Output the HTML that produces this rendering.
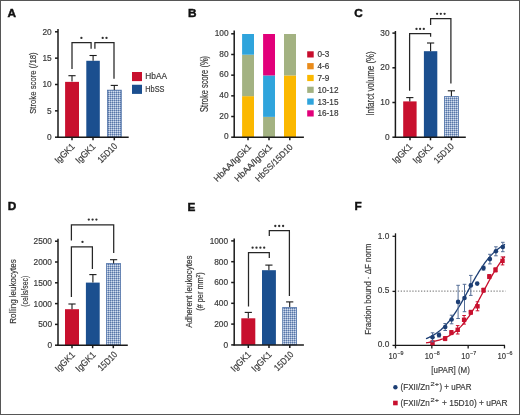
<!DOCTYPE html>
<html><head><meta charset="utf-8"><style>
html,body{margin:0;padding:0;background:#fff;}
svg{display:block;will-change:transform;}
text{font-family:"Liberation Sans", sans-serif;}
</style></head><body>
<svg width="520" height="415" viewBox="0 0 520 415" font-family='"Liberation Sans", sans-serif'>
<defs>
<pattern id="hat" x="0" y="0" width="2" height="2" patternUnits="userSpaceOnUse">
<rect width="2" height="2" fill="#93abcf"/>
<rect width="1" height="1" fill="#5a76a6"/>
<rect x="1" y="1" width="1" height="1" fill="#d5deec"/>
</pattern>
</defs>
<rect x="0" y="0" width="520" height="415" fill="#ffffff"/>
<rect x="65.1" y="81.865" width="13.9" height="55.334999999999994" fill="#c8102e"/>
<rect x="86.3" y="60.785" width="13.5" height="76.41499999999999" fill="#1b4f8f"/>
<rect x="107.4" y="90.17" width="13.899999999999999" height="47.029999999999994" fill="url(#hat)" stroke="#4f72a8" stroke-width="0.8"/>
<rect x="242.1" y="96.16" width="11.9" height="41.44" fill="#fbb800"/>
<rect x="242.1" y="54.72" width="11.9" height="41.44" fill="#a3b282"/>
<rect x="242.1" y="33.999999999999986" width="11.9" height="20.72" fill="#2fa4dc"/>
<rect x="263.1" y="116.88" width="11.9" height="20.72" fill="#a3b282"/>
<rect x="263.1" y="75.44" width="11.9" height="41.44" fill="#2fa4dc"/>
<rect x="263.1" y="33.999999999999986" width="11.9" height="41.44" fill="#e2007a"/>
<rect x="284.0" y="75.44" width="12.0" height="62.160000000000004" fill="#fbb800"/>
<rect x="284.0" y="33.999999999999986" width="12.0" height="41.44" fill="#a3b282"/>
<rect x="403.2" y="101.4" width="13.4" height="35.79999999999998" fill="#c8102e"/>
<rect x="423.9" y="51.2" width="13.4" height="85.99999999999999" fill="#1b4f8f"/>
<rect x="444.4" y="96.60000000000001" width="14.0" height="40.59999999999999" fill="url(#hat)" stroke="#4f72a8" stroke-width="0.8"/>
<rect x="65.0" y="309.2" width="14" height="36.0" fill="#c8102e"/>
<rect x="85.9" y="282.6" width="13.8" height="62.599999999999966" fill="#1b4f8f"/>
<rect x="106.60000000000001" y="263.5" width="13.799999999999999" height="81.69999999999996" fill="url(#hat)" stroke="#4f72a8" stroke-width="0.8"/>
<rect x="241.3" y="318.3" width="14" height="26.599999999999966" fill="#c8102e"/>
<rect x="262" y="270.2" width="13.9" height="74.69999999999999" fill="#1b4f8f"/>
<rect x="282.7" y="307.4" width="13.799999999999999" height="37.49999999999998" fill="url(#hat)" stroke="#4f72a8" stroke-width="0.8"/>
<rect x="0.5" y="0.5" width="519" height="414" fill="none" stroke="#565656" stroke-width="1"/>
<text x="7.5" y="16.8" font-size="11.8" text-anchor="start" fill="#111" font-weight="bold" stroke="#111" stroke-width="0.45">A</text>
<line x1="58" y1="29" x2="58" y2="137.79999999999998" stroke="#1a1a1a" stroke-width="1.5"/>
<line x1="55" y1="137.2" x2="58" y2="137.2" stroke="#1a1a1a" stroke-width="1.5"/>
<text x="51.7" y="140.1" font-size="8.3" text-anchor="end" fill="#3a3a3a" font-weight="normal" stroke="#3a3a3a" stroke-width="0.18">0</text>
<line x1="55" y1="110.85" x2="58" y2="110.85" stroke="#1a1a1a" stroke-width="1.5"/>
<text x="51.7" y="113.75" font-size="8.3" text-anchor="end" fill="#3a3a3a" font-weight="normal" stroke="#3a3a3a" stroke-width="0.18">5</text>
<line x1="55" y1="84.5" x2="58" y2="84.5" stroke="#1a1a1a" stroke-width="1.5"/>
<text x="51.7" y="87.4" font-size="8.3" text-anchor="end" fill="#3a3a3a" font-weight="normal" stroke="#3a3a3a" stroke-width="0.18">10</text>
<line x1="55" y1="58.14999999999999" x2="58" y2="58.14999999999999" stroke="#1a1a1a" stroke-width="1.5"/>
<text x="51.7" y="61.04999999999999" font-size="8.3" text-anchor="end" fill="#3a3a3a" font-weight="normal" stroke="#3a3a3a" stroke-width="0.18">15</text>
<line x1="55" y1="31.799999999999997" x2="58" y2="31.799999999999997" stroke="#1a1a1a" stroke-width="1.5"/>
<text x="51.7" y="34.699999999999996" font-size="8.3" text-anchor="end" fill="#3a3a3a" font-weight="normal" stroke="#3a3a3a" stroke-width="0.18">20</text>
<line x1="57.4" y1="137.3" x2="128.7" y2="137.3" stroke="#1a1a1a" stroke-width="1.5"/>
<line x1="72" y1="137.3" x2="72" y2="140.3" stroke="#1a1a1a" stroke-width="1.5"/>
<line x1="93" y1="137.3" x2="93" y2="140.3" stroke="#1a1a1a" stroke-width="1.5"/>
<line x1="114.3" y1="137.3" x2="114.3" y2="140.3" stroke="#1a1a1a" stroke-width="1.5"/>
<line x1="72" y1="81.4" x2="72" y2="75.7" stroke="#1a1a1a" stroke-width="1.1"/>
<line x1="68.4" y1="75.7" x2="75.6" y2="75.7" stroke="#1a1a1a" stroke-width="1.1"/>
<line x1="93.1" y1="60.7" x2="93.1" y2="55.5" stroke="#1a1a1a" stroke-width="1.1"/>
<line x1="89.5" y1="55.5" x2="96.69999999999999" y2="55.5" stroke="#1a1a1a" stroke-width="1.1"/>
<line x1="114.3" y1="89.9" x2="114.3" y2="85.4" stroke="#1a1a1a" stroke-width="1.1"/>
<line x1="110.7" y1="85.4" x2="117.89999999999999" y2="85.4" stroke="#1a1a1a" stroke-width="1.1"/>
<polyline points="72,69 72,42.7 91.1,42.7 91.1,48.7" fill="none" stroke="#262626" stroke-width="1.25"/>
<polyline points="94.9,48.7 94.9,42.7 114,42.7 114,78.7" fill="none" stroke="#262626" stroke-width="1.25"/>
<circle cx="81.4" cy="37.9" r="1.15" fill="#2e2e2e"/>
<circle cx="102.7" cy="37.9" r="1.15" fill="#2e2e2e"/>
<circle cx="106.5" cy="37.9" r="1.15" fill="#2e2e2e"/>
<rect x="132" y="72" width="10" height="9.1" fill="#c8102e"/>
<rect x="132" y="84.75" width="10" height="9.15" fill="#1b4f8f"/>
<text x="145.3" y="79.2" font-size="8.4" text-anchor="start" fill="#3a3a3a" font-weight="normal" textLength="21.7" lengthAdjust="spacingAndGlyphs" stroke="#3a3a3a" stroke-width="0.18">HbAA</text>
<text x="145.3" y="91.9" font-size="8.4" text-anchor="start" fill="#3a3a3a" font-weight="normal" textLength="19.2" lengthAdjust="spacingAndGlyphs" stroke="#3a3a3a" stroke-width="0.18">HbSS</text>
<text x="36.2" y="83.1" font-size="9.6" text-anchor="middle" fill="#3a3a3a" font-weight="normal" textLength="61.5" lengthAdjust="spacingAndGlyphs" transform="rotate(-90 36.2 83.1)" stroke="#3a3a3a" stroke-width="0.18">Stroke score (/18)</text>
<text x="75.4" y="147.1" font-size="9.3" text-anchor="end" fill="#3a3a3a" font-weight="normal" textLength="24" lengthAdjust="spacingAndGlyphs" transform="rotate(-45 75.4 147.1)" stroke="#3a3a3a" stroke-width="0.18">IgGK1</text>
<text x="96.2" y="147.1" font-size="9.3" text-anchor="end" fill="#3a3a3a" font-weight="normal" textLength="24" lengthAdjust="spacingAndGlyphs" transform="rotate(-45 96.2 147.1)" stroke="#3a3a3a" stroke-width="0.18">IgGK1</text>
<text x="117.8" y="146.9" font-size="9.3" text-anchor="end" fill="#3a3a3a" font-weight="normal" textLength="23.5" lengthAdjust="spacingAndGlyphs" transform="rotate(-45 117.8 146.9)" stroke="#3a3a3a" stroke-width="0.18">15D10</text>
<text x="188.1" y="16.9" font-size="11.8" text-anchor="start" fill="#111" font-weight="bold" stroke="#111" stroke-width="0.45">B</text>
<line x1="234.2" y1="30.6" x2="234.2" y2="137.79999999999998" stroke="#1a1a1a" stroke-width="1.5"/>
<line x1="231.2" y1="137.2" x2="234.2" y2="137.2" stroke="#1a1a1a" stroke-width="1.5"/>
<text x="228.5" y="139.39999999999998" font-size="8.3" text-anchor="end" fill="#3a3a3a" font-weight="normal" stroke="#3a3a3a" stroke-width="0.18">0</text>
<line x1="231.2" y1="116.51999999999998" x2="234.2" y2="116.51999999999998" stroke="#1a1a1a" stroke-width="1.5"/>
<text x="228.5" y="118.71999999999998" font-size="8.3" text-anchor="end" fill="#3a3a3a" font-weight="normal" stroke="#3a3a3a" stroke-width="0.18">20</text>
<line x1="231.2" y1="95.83999999999999" x2="234.2" y2="95.83999999999999" stroke="#1a1a1a" stroke-width="1.5"/>
<text x="228.5" y="98.03999999999999" font-size="8.3" text-anchor="end" fill="#3a3a3a" font-weight="normal" stroke="#3a3a3a" stroke-width="0.18">40</text>
<line x1="231.2" y1="75.16" x2="234.2" y2="75.16" stroke="#1a1a1a" stroke-width="1.5"/>
<text x="228.5" y="77.36" font-size="8.3" text-anchor="end" fill="#3a3a3a" font-weight="normal" stroke="#3a3a3a" stroke-width="0.18">60</text>
<line x1="231.2" y1="54.47999999999999" x2="234.2" y2="54.47999999999999" stroke="#1a1a1a" stroke-width="1.5"/>
<text x="228.5" y="56.67999999999999" font-size="8.3" text-anchor="end" fill="#3a3a3a" font-weight="normal" stroke="#3a3a3a" stroke-width="0.18">80</text>
<line x1="231.2" y1="33.79999999999998" x2="234.2" y2="33.79999999999998" stroke="#1a1a1a" stroke-width="1.5"/>
<text x="228.5" y="35.999999999999986" font-size="8.3" text-anchor="end" fill="#3a3a3a" font-weight="normal" stroke="#3a3a3a" stroke-width="0.18">100</text>
<line x1="233.6" y1="137.2" x2="303.9" y2="137.2" stroke="#1a1a1a" stroke-width="1.5"/>
<line x1="248" y1="137.2" x2="248" y2="140.2" stroke="#1a1a1a" stroke-width="1.5"/>
<line x1="269" y1="137.2" x2="269" y2="140.2" stroke="#1a1a1a" stroke-width="1.5"/>
<line x1="289.8" y1="137.2" x2="289.8" y2="140.2" stroke="#1a1a1a" stroke-width="1.5"/>
<rect x="307.2" y="51.3" width="6.5" height="6.2" fill="#c70d2d"/>
<text x="317.5" y="57.3" font-size="8.2" text-anchor="start" fill="#3a3a3a" font-weight="normal" stroke="#3a3a3a" stroke-width="0.18">0-3</text>
<rect x="307.2" y="63.099999999999994" width="6.5" height="6.2" fill="#e98b1a"/>
<text x="317.5" y="69.1" font-size="8.2" text-anchor="start" fill="#3a3a3a" font-weight="normal" stroke="#3a3a3a" stroke-width="0.18">4-6</text>
<rect x="307.2" y="74.9" width="6.5" height="6.2" fill="#fbb800"/>
<text x="317.5" y="80.9" font-size="8.2" text-anchor="start" fill="#3a3a3a" font-weight="normal" stroke="#3a3a3a" stroke-width="0.18">7-9</text>
<rect x="307.2" y="86.7" width="6.5" height="6.2" fill="#a3b282"/>
<text x="317.5" y="92.7" font-size="8.2" text-anchor="start" fill="#3a3a3a" font-weight="normal" stroke="#3a3a3a" stroke-width="0.18">10-12</text>
<rect x="307.2" y="98.5" width="6.5" height="6.2" fill="#2fa4dc"/>
<text x="317.5" y="104.5" font-size="8.2" text-anchor="start" fill="#3a3a3a" font-weight="normal" stroke="#3a3a3a" stroke-width="0.18">13-15</text>
<rect x="307.2" y="110.3" width="6.5" height="6.2" fill="#e2007a"/>
<text x="317.5" y="116.3" font-size="8.2" text-anchor="start" fill="#3a3a3a" font-weight="normal" stroke="#3a3a3a" stroke-width="0.18">16-18</text>
<text x="207.9" y="83.9" font-size="10" text-anchor="middle" fill="#3a3a3a" font-weight="normal" textLength="56" lengthAdjust="spacingAndGlyphs" transform="rotate(-90 207.9 83.9)" stroke="#3a3a3a" stroke-width="0.18">Stroke score (%)</text>
<text x="251.8" y="147.6" font-size="8.8" text-anchor="end" fill="#3a3a3a" font-weight="normal" textLength="49" lengthAdjust="spacingAndGlyphs" transform="rotate(-45 251.8 147.6)" stroke="#3a3a3a" stroke-width="0.18">HbAA/IgGk1</text>
<text x="272.7" y="147.6" font-size="8.8" text-anchor="end" fill="#3a3a3a" font-weight="normal" textLength="49" lengthAdjust="spacingAndGlyphs" transform="rotate(-45 272.7 147.6)" stroke="#3a3a3a" stroke-width="0.18">HbAA/IgGk1</text>
<text x="293.4" y="147.6" font-size="8.8" text-anchor="end" fill="#3a3a3a" font-weight="normal" textLength="49" lengthAdjust="spacingAndGlyphs" transform="rotate(-45 293.4 147.6)" stroke="#3a3a3a" stroke-width="0.18">HbSS/15D10</text>
<text x="354.3" y="17.2" font-size="11.8" text-anchor="start" fill="#111" font-weight="bold" stroke="#111" stroke-width="0.45">C</text>
<line x1="395.4" y1="31" x2="395.4" y2="137.79999999999998" stroke="#1a1a1a" stroke-width="1.5"/>
<line x1="392.4" y1="137.2" x2="395.4" y2="137.2" stroke="#1a1a1a" stroke-width="1.5"/>
<text x="389.5" y="139.7" font-size="8.3" text-anchor="end" fill="#3a3a3a" font-weight="normal" stroke="#3a3a3a" stroke-width="0.18">0</text>
<line x1="392.4" y1="102.49999999999999" x2="395.4" y2="102.49999999999999" stroke="#1a1a1a" stroke-width="1.5"/>
<text x="389.5" y="104.99999999999999" font-size="8.3" text-anchor="end" fill="#3a3a3a" font-weight="normal" stroke="#3a3a3a" stroke-width="0.18">10</text>
<line x1="392.4" y1="67.79999999999998" x2="395.4" y2="67.79999999999998" stroke="#1a1a1a" stroke-width="1.5"/>
<text x="389.5" y="70.29999999999998" font-size="8.3" text-anchor="end" fill="#3a3a3a" font-weight="normal" stroke="#3a3a3a" stroke-width="0.18">20</text>
<line x1="392.4" y1="33.09999999999998" x2="395.4" y2="33.09999999999998" stroke="#1a1a1a" stroke-width="1.5"/>
<text x="389.5" y="35.59999999999998" font-size="8.3" text-anchor="end" fill="#3a3a3a" font-weight="normal" stroke="#3a3a3a" stroke-width="0.18">30</text>
<line x1="394.79999999999995" y1="137.3" x2="465.8" y2="137.3" stroke="#1a1a1a" stroke-width="1.5"/>
<line x1="410" y1="137.3" x2="410" y2="140.3" stroke="#1a1a1a" stroke-width="1.5"/>
<line x1="430.5" y1="137.3" x2="430.5" y2="140.3" stroke="#1a1a1a" stroke-width="1.5"/>
<line x1="451.4" y1="137.3" x2="451.4" y2="140.3" stroke="#1a1a1a" stroke-width="1.5"/>
<line x1="409.8" y1="101.4" x2="409.8" y2="97.6" stroke="#1a1a1a" stroke-width="1.1"/>
<line x1="406.2" y1="97.6" x2="413.40000000000003" y2="97.6" stroke="#1a1a1a" stroke-width="1.1"/>
<line x1="430.6" y1="51.2" x2="430.6" y2="43.0" stroke="#1a1a1a" stroke-width="1.1"/>
<line x1="427.0" y1="43.0" x2="434.20000000000005" y2="43.0" stroke="#1a1a1a" stroke-width="1.1"/>
<line x1="451.4" y1="96.2" x2="451.4" y2="90.8" stroke="#1a1a1a" stroke-width="1.1"/>
<line x1="447.79999999999995" y1="90.8" x2="455.0" y2="90.8" stroke="#1a1a1a" stroke-width="1.1"/>
<polyline points="409.6,90.8 409.6,33.6 430.6,33.6 430.6,36.7" fill="none" stroke="#262626" stroke-width="1.25"/>
<polyline points="430.6,25.0 430.6,18.5 450.9,18.5 450.9,83.6" fill="none" stroke="#262626" stroke-width="1.25"/>
<circle cx="416.5" cy="28.9" r="1.15" fill="#2e2e2e"/>
<circle cx="420.1" cy="28.9" r="1.15" fill="#2e2e2e"/>
<circle cx="423.8" cy="28.9" r="1.15" fill="#2e2e2e"/>
<circle cx="437.1" cy="13.8" r="1.15" fill="#2e2e2e"/>
<circle cx="440.8" cy="13.8" r="1.15" fill="#2e2e2e"/>
<circle cx="444.6" cy="13.8" r="1.15" fill="#2e2e2e"/>
<text x="374.0" y="83.5" font-size="10.2" text-anchor="middle" fill="#3a3a3a" font-weight="normal" textLength="64.5" lengthAdjust="spacingAndGlyphs" transform="rotate(-90 374.0 83.5)" stroke="#3a3a3a" stroke-width="0.18">Infarct volume (%)</text>
<text x="412.9" y="147.1" font-size="9.3" text-anchor="end" fill="#3a3a3a" font-weight="normal" textLength="24" lengthAdjust="spacingAndGlyphs" transform="rotate(-45 412.9 147.1)" stroke="#3a3a3a" stroke-width="0.18">IgGK1</text>
<text x="433.6" y="147.1" font-size="9.3" text-anchor="end" fill="#3a3a3a" font-weight="normal" textLength="24" lengthAdjust="spacingAndGlyphs" transform="rotate(-45 433.6 147.1)" stroke="#3a3a3a" stroke-width="0.18">IgGK1</text>
<text x="454.4" y="147.0" font-size="9.3" text-anchor="end" fill="#3a3a3a" font-weight="normal" textLength="24" lengthAdjust="spacingAndGlyphs" transform="rotate(-45 454.4 147.0)" stroke="#3a3a3a" stroke-width="0.18">15D10</text>
<text x="7.8" y="210.2" font-size="11.8" text-anchor="start" fill="#111" font-weight="bold" stroke="#111" stroke-width="0.45">D</text>
<line x1="58" y1="238.7" x2="58" y2="345.8" stroke="#1a1a1a" stroke-width="1.5"/>
<line x1="55" y1="345.2" x2="58" y2="345.2" stroke="#1a1a1a" stroke-width="1.5"/>
<text x="52.0" y="348.09999999999997" font-size="8.3" text-anchor="end" fill="#3a3a3a" font-weight="normal" stroke="#3a3a3a" stroke-width="0.18">0</text>
<line x1="55" y1="324.4" x2="58" y2="324.4" stroke="#1a1a1a" stroke-width="1.5"/>
<text x="52.0" y="327.29999999999995" font-size="8.3" text-anchor="end" fill="#3a3a3a" font-weight="normal" stroke="#3a3a3a" stroke-width="0.18">500</text>
<line x1="55" y1="303.59999999999997" x2="58" y2="303.59999999999997" stroke="#1a1a1a" stroke-width="1.5"/>
<text x="52.0" y="306.49999999999994" font-size="8.3" text-anchor="end" fill="#3a3a3a" font-weight="normal" stroke="#3a3a3a" stroke-width="0.18">1000</text>
<line x1="55" y1="282.8" x2="58" y2="282.8" stroke="#1a1a1a" stroke-width="1.5"/>
<text x="52.0" y="285.7" font-size="8.3" text-anchor="end" fill="#3a3a3a" font-weight="normal" stroke="#3a3a3a" stroke-width="0.18">1500</text>
<line x1="55" y1="262.0" x2="58" y2="262.0" stroke="#1a1a1a" stroke-width="1.5"/>
<text x="52.0" y="264.9" font-size="8.3" text-anchor="end" fill="#3a3a3a" font-weight="normal" stroke="#3a3a3a" stroke-width="0.18">2000</text>
<line x1="55" y1="241.2" x2="58" y2="241.2" stroke="#1a1a1a" stroke-width="1.5"/>
<text x="52.0" y="244.1" font-size="8.3" text-anchor="end" fill="#3a3a3a" font-weight="normal" stroke="#3a3a3a" stroke-width="0.18">2500</text>
<line x1="57.4" y1="345.2" x2="127.8" y2="345.2" stroke="#1a1a1a" stroke-width="1.5"/>
<line x1="72" y1="345.2" x2="72" y2="348.2" stroke="#1a1a1a" stroke-width="1.5"/>
<line x1="92.7" y1="345.2" x2="92.7" y2="348.2" stroke="#1a1a1a" stroke-width="1.5"/>
<line x1="113.3" y1="345.2" x2="113.3" y2="348.2" stroke="#1a1a1a" stroke-width="1.5"/>
<line x1="72" y1="309.2" x2="72" y2="304.0" stroke="#1a1a1a" stroke-width="1.1"/>
<line x1="68.4" y1="304.0" x2="75.6" y2="304.0" stroke="#1a1a1a" stroke-width="1.1"/>
<line x1="92.9" y1="282.6" x2="92.9" y2="274.6" stroke="#1a1a1a" stroke-width="1.1"/>
<line x1="89.30000000000001" y1="274.6" x2="96.5" y2="274.6" stroke="#1a1a1a" stroke-width="1.1"/>
<line x1="113.6" y1="263.6" x2="113.6" y2="259.7" stroke="#1a1a1a" stroke-width="1.1"/>
<line x1="110.0" y1="259.7" x2="117.19999999999999" y2="259.7" stroke="#1a1a1a" stroke-width="1.1"/>
<polyline points="71.4,240.4 71.4,224.8 113.7,224.8 113.7,253" fill="none" stroke="#262626" stroke-width="1.25"/>
<polyline points="71.4,296.9 71.4,246.8 92.4,246.8 92.4,269" fill="none" stroke="#262626" stroke-width="1.25"/>
<circle cx="88.8" cy="219.6" r="1.15" fill="#2e2e2e"/>
<circle cx="92.6" cy="219.6" r="1.15" fill="#2e2e2e"/>
<circle cx="96.4" cy="219.6" r="1.15" fill="#2e2e2e"/>
<circle cx="82.5" cy="241.9" r="1.15" fill="#2e2e2e"/>
<text x="15.7" y="291.6" font-size="9.8" text-anchor="middle" fill="#3a3a3a" font-weight="normal" textLength="64.5" lengthAdjust="spacingAndGlyphs" transform="rotate(-90 15.7 291.6)" stroke="#3a3a3a" stroke-width="0.18">Rolling leukocytes</text>
<text x="27.6" y="291.2" font-size="9" text-anchor="middle" fill="#3a3a3a" font-weight="normal" textLength="31" lengthAdjust="spacingAndGlyphs" transform="rotate(-90 27.6 291.2)" stroke="#3a3a3a" stroke-width="0.18">(cells/sec)</text>
<text x="75.6" y="355.5" font-size="9.3" text-anchor="end" fill="#3a3a3a" font-weight="normal" textLength="24" lengthAdjust="spacingAndGlyphs" transform="rotate(-45 75.6 355.5)" stroke="#3a3a3a" stroke-width="0.18">IgGK1</text>
<text x="96.3" y="355.5" font-size="9.3" text-anchor="end" fill="#3a3a3a" font-weight="normal" textLength="24" lengthAdjust="spacingAndGlyphs" transform="rotate(-45 96.3 355.5)" stroke="#3a3a3a" stroke-width="0.18">IgGK1</text>
<text x="117.8" y="355.3" font-size="9.3" text-anchor="end" fill="#3a3a3a" font-weight="normal" textLength="23" lengthAdjust="spacingAndGlyphs" transform="rotate(-45 117.8 355.3)" stroke="#3a3a3a" stroke-width="0.18">15D10</text>
<text x="187.6" y="210.5" font-size="11.8" text-anchor="start" fill="#111" font-weight="bold" stroke="#111" stroke-width="0.45">E</text>
<line x1="234.2" y1="238.5" x2="234.2" y2="345.5" stroke="#1a1a1a" stroke-width="1.5"/>
<line x1="231.2" y1="344.9" x2="234.2" y2="344.9" stroke="#1a1a1a" stroke-width="1.5"/>
<text x="228.1" y="347.79999999999995" font-size="8.3" text-anchor="end" fill="#3a3a3a" font-weight="normal" stroke="#3a3a3a" stroke-width="0.18">0</text>
<line x1="231.2" y1="324.09999999999997" x2="234.2" y2="324.09999999999997" stroke="#1a1a1a" stroke-width="1.5"/>
<text x="228.1" y="326.99999999999994" font-size="8.3" text-anchor="end" fill="#3a3a3a" font-weight="normal" stroke="#3a3a3a" stroke-width="0.18">200</text>
<line x1="231.2" y1="303.29999999999995" x2="234.2" y2="303.29999999999995" stroke="#1a1a1a" stroke-width="1.5"/>
<text x="228.1" y="306.19999999999993" font-size="8.3" text-anchor="end" fill="#3a3a3a" font-weight="normal" stroke="#3a3a3a" stroke-width="0.18">400</text>
<line x1="231.2" y1="282.5" x2="234.2" y2="282.5" stroke="#1a1a1a" stroke-width="1.5"/>
<text x="228.1" y="285.4" font-size="8.3" text-anchor="end" fill="#3a3a3a" font-weight="normal" stroke="#3a3a3a" stroke-width="0.18">600</text>
<line x1="231.2" y1="261.7" x2="234.2" y2="261.7" stroke="#1a1a1a" stroke-width="1.5"/>
<text x="228.1" y="264.59999999999997" font-size="8.3" text-anchor="end" fill="#3a3a3a" font-weight="normal" stroke="#3a3a3a" stroke-width="0.18">800</text>
<line x1="231.2" y1="240.89999999999998" x2="234.2" y2="240.89999999999998" stroke="#1a1a1a" stroke-width="1.5"/>
<text x="228.1" y="243.79999999999998" font-size="8.3" text-anchor="end" fill="#3a3a3a" font-weight="normal" stroke="#3a3a3a" stroke-width="0.18">1000</text>
<line x1="233.6" y1="345.0" x2="303.9" y2="345.0" stroke="#1a1a1a" stroke-width="1.5"/>
<line x1="248.3" y1="345.0" x2="248.3" y2="348.0" stroke="#1a1a1a" stroke-width="1.5"/>
<line x1="269" y1="345.0" x2="269" y2="348.0" stroke="#1a1a1a" stroke-width="1.5"/>
<line x1="289.8" y1="345.0" x2="289.8" y2="348.0" stroke="#1a1a1a" stroke-width="1.5"/>
<line x1="248.3" y1="318.3" x2="248.3" y2="312.4" stroke="#1a1a1a" stroke-width="1.1"/>
<line x1="244.70000000000002" y1="312.4" x2="251.9" y2="312.4" stroke="#1a1a1a" stroke-width="1.1"/>
<line x1="268.9" y1="270.2" x2="268.9" y2="265.1" stroke="#1a1a1a" stroke-width="1.1"/>
<line x1="265.29999999999995" y1="265.1" x2="272.5" y2="265.1" stroke="#1a1a1a" stroke-width="1.1"/>
<line x1="289.7" y1="307" x2="289.7" y2="301.9" stroke="#1a1a1a" stroke-width="1.1"/>
<line x1="286.09999999999997" y1="301.9" x2="293.3" y2="301.9" stroke="#1a1a1a" stroke-width="1.1"/>
<polyline points="248.5,306.6 248.5,252.5 269.3,252.5 269.3,258.1" fill="none" stroke="#262626" stroke-width="1.25"/>
<polyline points="269.3,236.1 269.3,230.6 289.4,230.6 289.4,296" fill="none" stroke="#262626" stroke-width="1.25"/>
<circle cx="252.6" cy="247.7" r="1.15" fill="#2e2e2e"/>
<circle cx="256.5" cy="247.7" r="1.15" fill="#2e2e2e"/>
<circle cx="260.4" cy="247.7" r="1.15" fill="#2e2e2e"/>
<circle cx="264.2" cy="247.7" r="1.15" fill="#2e2e2e"/>
<circle cx="275.3" cy="226.0" r="1.15" fill="#2e2e2e"/>
<circle cx="279.2" cy="226.0" r="1.15" fill="#2e2e2e"/>
<circle cx="283.1" cy="226.0" r="1.15" fill="#2e2e2e"/>
<text x="191.9" y="291.7" font-size="9.8" text-anchor="middle" fill="#3a3a3a" font-weight="normal" textLength="72.3" lengthAdjust="spacingAndGlyphs" transform="rotate(-90 191.9 291.7)" stroke="#3a3a3a" stroke-width="0.18">Adherent leukocytes</text>
<text x="203.4" y="291.5" font-size="8.2" text-anchor="middle" fill="#3a3a3a" font-weight="normal" textLength="38.5" lengthAdjust="spacingAndGlyphs" transform="rotate(-90 203.4 291.5)" stroke="#3a3a3a" stroke-width="0.18">(# per mm<tspan font-size="5.4" dy="-3.4">2</tspan><tspan dy="3.4">)</tspan></text>
<text x="251.6" y="355.2" font-size="9.3" text-anchor="end" fill="#3a3a3a" font-weight="normal" textLength="24" lengthAdjust="spacingAndGlyphs" transform="rotate(-45 251.6 355.2)" stroke="#3a3a3a" stroke-width="0.18">IgGK1</text>
<text x="272.3" y="355.2" font-size="9.3" text-anchor="end" fill="#3a3a3a" font-weight="normal" textLength="24" lengthAdjust="spacingAndGlyphs" transform="rotate(-45 272.3 355.2)" stroke="#3a3a3a" stroke-width="0.18">IgGK1</text>
<text x="294.1" y="355.2" font-size="9.3" text-anchor="end" fill="#3a3a3a" font-weight="normal" textLength="23" lengthAdjust="spacingAndGlyphs" transform="rotate(-45 294.1 355.2)" stroke="#3a3a3a" stroke-width="0.18">15D10</text>
<text x="354.6" y="210.3" font-size="11.8" text-anchor="start" fill="#111" font-weight="bold" stroke="#111" stroke-width="0.45">F</text>
<line x1="395.5" y1="233.3" x2="395.5" y2="346.1" stroke="#1a1a1a" stroke-width="1.3"/>
<line x1="392.5" y1="345.4" x2="395.5" y2="345.4" stroke="#1a1a1a" stroke-width="1.3"/>
<text x="389.3" y="347.4" font-size="8.3" text-anchor="end" fill="#3a3a3a" font-weight="normal" stroke="#3a3a3a" stroke-width="0.18">0.0</text>
<line x1="392.5" y1="291.4" x2="395.5" y2="291.4" stroke="#1a1a1a" stroke-width="1.3"/>
<text x="389.3" y="293.2" font-size="8.3" text-anchor="end" fill="#3a3a3a" font-weight="normal" stroke="#3a3a3a" stroke-width="0.18">0.5</text>
<line x1="392.5" y1="236.3" x2="395.5" y2="236.3" stroke="#1a1a1a" stroke-width="1.3"/>
<text x="389.3" y="238.7" font-size="8.3" text-anchor="end" fill="#3a3a3a" font-weight="normal" stroke="#3a3a3a" stroke-width="0.18">1.0</text>
<line x1="394.9" y1="345.4" x2="505" y2="345.4" stroke="#1a1a1a" stroke-width="1.3"/>
<line x1="395.5" y1="345.4" x2="395.5" y2="348.4" stroke="#1a1a1a" stroke-width="1.3"/>
<text x="388.5" y="359" font-size="8.4" text-anchor="start" fill="#3a3a3a" font-weight="normal" textLength="8.5" lengthAdjust="spacingAndGlyphs" stroke="#3a3a3a" stroke-width="0.18">10</text>
<text x="397.4" y="355.1" font-size="5.7" text-anchor="start" fill="#3a3a3a" font-weight="normal" textLength="6.1" lengthAdjust="spacingAndGlyphs" stroke="#3a3a3a" stroke-width="0.18">−9</text>
<line x1="431.83" y1="345.4" x2="431.83" y2="348.4" stroke="#1a1a1a" stroke-width="1.3"/>
<text x="424.83" y="359" font-size="8.4" text-anchor="start" fill="#3a3a3a" font-weight="normal" textLength="8.5" lengthAdjust="spacingAndGlyphs" stroke="#3a3a3a" stroke-width="0.18">10</text>
<text x="433.72999999999996" y="355.1" font-size="5.7" text-anchor="start" fill="#3a3a3a" font-weight="normal" textLength="6.1" lengthAdjust="spacingAndGlyphs" stroke="#3a3a3a" stroke-width="0.18">−8</text>
<line x1="468.15999999999997" y1="345.4" x2="468.15999999999997" y2="348.4" stroke="#1a1a1a" stroke-width="1.3"/>
<text x="461.15999999999997" y="359" font-size="8.4" text-anchor="start" fill="#3a3a3a" font-weight="normal" textLength="8.5" lengthAdjust="spacingAndGlyphs" stroke="#3a3a3a" stroke-width="0.18">10</text>
<text x="470.05999999999995" y="355.1" font-size="5.7" text-anchor="start" fill="#3a3a3a" font-weight="normal" textLength="6.1" lengthAdjust="spacingAndGlyphs" stroke="#3a3a3a" stroke-width="0.18">−7</text>
<line x1="504.49" y1="345.4" x2="504.49" y2="348.4" stroke="#1a1a1a" stroke-width="1.3"/>
<text x="497.49" y="359" font-size="8.4" text-anchor="start" fill="#3a3a3a" font-weight="normal" textLength="8.5" lengthAdjust="spacingAndGlyphs" stroke="#3a3a3a" stroke-width="0.18">10</text>
<text x="506.39" y="355.1" font-size="5.7" text-anchor="start" fill="#3a3a3a" font-weight="normal" textLength="6.1" lengthAdjust="spacingAndGlyphs" stroke="#3a3a3a" stroke-width="0.18">−6</text>
<line x1="397.8" y1="291.2" x2="505.5" y2="291.2" stroke="#858585" stroke-width="1.2" stroke-dasharray="1.3 1.6"/>
<polyline points="426.0,338.7 427.0,338.3 428.0,337.88 429.0,337.44 430.0,336.96 431.0,336.47 432.0,335.94 433.0,335.38 434.0,334.79 435.0,334.17 436.0,333.51 437.0,332.82 438.0,332.09 439.0,331.32 440.0,330.51 441.0,329.66 442.0,328.77 443.0,327.84 444.0,326.86 445.0,325.84 446.0,324.77 447.0,323.66 448.0,322.5 449.0,321.29 450.0,320.04 451.0,318.74 452.0,317.39 453.0,316.0 454.0,314.56 455.0,313.09 456.0,311.56 457.0,310.0 458.0,308.4 459.0,306.77 460.0,305.1 461.0,303.4 462.0,301.67 463.0,299.92 464.0,298.15 465.0,296.36 466.0,294.56 467.0,292.75 468.0,290.93 469.0,289.11 470.0,287.29 471.0,285.48 472.0,283.68 473.0,281.89 474.0,280.12 475.0,278.38 476.0,276.66 477.0,274.96 478.0,273.3 479.0,271.67 480.0,270.08 481.0,268.53 482.0,267.01 483.0,265.54 484.0,264.12 485.0,262.74 486.0,261.4 487.0,260.11 488.0,258.86 489.0,257.67 490.0,256.52 491.0,255.41 492.0,254.35 493.0,253.34 494.0,252.37 495.0,251.45 496.0,250.57 497.0,249.73 498.0,248.93 499.0,248.17 500.0,247.44 501.0,246.76 502.0,246.11 503.0,245.49 504.0,244.91 505.0,244.35" fill="none" stroke="#1c3e74" stroke-width="1.3"/>
<polyline points="426.0,342.85 427.0,342.71 428.0,342.57 429.0,342.41 430.0,342.24 431.0,342.07 432.0,341.88 433.0,341.67 434.0,341.46 435.0,341.23 436.0,340.98 437.0,340.72 438.0,340.44 439.0,340.14 440.0,339.82 441.0,339.48 442.0,339.12 443.0,338.74 444.0,338.33 445.0,337.9 446.0,337.44 447.0,336.95 448.0,336.44 449.0,335.89 450.0,335.31 451.0,334.69 452.0,334.04 453.0,333.35 454.0,332.63 455.0,331.86 456.0,331.05 457.0,330.2 458.0,329.31 459.0,328.37 460.0,327.38 461.0,326.35 462.0,325.27 463.0,324.14 464.0,322.96 465.0,321.73 466.0,320.45 467.0,319.12 468.0,317.74 469.0,316.31 470.0,314.84 471.0,313.31 472.0,311.75 473.0,310.13 474.0,308.48 475.0,306.79 476.0,305.07 477.0,303.31 478.0,301.52 479.0,299.7 480.0,297.87 481.0,296.01 482.0,294.15 483.0,292.27 484.0,290.39 485.0,288.51 486.0,286.63 487.0,284.76 488.0,282.9 489.0,281.06 490.0,279.24 491.0,277.45 492.0,275.68 493.0,273.95 494.0,272.25 495.0,270.59 496.0,268.97 497.0,267.4 498.0,265.87 499.0,264.38 500.0,262.94 501.0,261.55 502.0,260.21 503.0,258.92 504.0,257.68 505.0,256.49" fill="none" stroke="#c8102e" stroke-width="1.3"/>
<line x1="432.5" y1="340.8" x2="432.5" y2="344.8" stroke="#c8102e" stroke-width="1"/>
<line x1="430.7" y1="340.8" x2="434.3" y2="340.8" stroke="#c8102e" stroke-width="1"/>
<line x1="430.7" y1="344.8" x2="434.3" y2="344.8" stroke="#c8102e" stroke-width="1"/>
<rect x="430.3" y="340.6" width="4.4" height="4.4" fill="#c8102e"/>
<line x1="445.1" y1="336.6" x2="445.1" y2="340.6" stroke="#c8102e" stroke-width="1"/>
<line x1="443.3" y1="336.6" x2="446.90000000000003" y2="336.6" stroke="#c8102e" stroke-width="1"/>
<line x1="443.3" y1="340.6" x2="446.90000000000003" y2="340.6" stroke="#c8102e" stroke-width="1"/>
<rect x="442.90000000000003" y="336.40000000000003" width="4.4" height="4.4" fill="#c8102e"/>
<line x1="451.4" y1="330.6" x2="451.4" y2="334.6" stroke="#c8102e" stroke-width="1"/>
<line x1="449.59999999999997" y1="330.6" x2="453.2" y2="330.6" stroke="#c8102e" stroke-width="1"/>
<line x1="449.59999999999997" y1="334.6" x2="453.2" y2="334.6" stroke="#c8102e" stroke-width="1"/>
<rect x="449.2" y="330.40000000000003" width="4.4" height="4.4" fill="#c8102e"/>
<line x1="457.7" y1="325.6" x2="457.7" y2="334.0" stroke="#c8102e" stroke-width="1"/>
<line x1="455.9" y1="325.6" x2="459.5" y2="325.6" stroke="#c8102e" stroke-width="1"/>
<line x1="455.9" y1="334.0" x2="459.5" y2="334.0" stroke="#c8102e" stroke-width="1"/>
<rect x="455.5" y="327.6" width="4.4" height="4.4" fill="#c8102e"/>
<line x1="464.1" y1="315.5" x2="464.1" y2="324.1" stroke="#c8102e" stroke-width="1"/>
<line x1="462.3" y1="315.5" x2="465.90000000000003" y2="315.5" stroke="#c8102e" stroke-width="1"/>
<line x1="462.3" y1="324.1" x2="465.90000000000003" y2="324.1" stroke="#c8102e" stroke-width="1"/>
<rect x="461.90000000000003" y="317.6" width="4.4" height="4.4" fill="#c8102e"/>
<line x1="470.8" y1="310.3" x2="470.8" y2="314.3" stroke="#c8102e" stroke-width="1"/>
<line x1="469.0" y1="310.3" x2="472.6" y2="310.3" stroke="#c8102e" stroke-width="1"/>
<line x1="469.0" y1="314.3" x2="472.6" y2="314.3" stroke="#c8102e" stroke-width="1"/>
<rect x="468.6" y="310.1" width="4.4" height="4.4" fill="#c8102e"/>
<line x1="477.5" y1="301.8" x2="477.5" y2="310.8" stroke="#c8102e" stroke-width="1"/>
<line x1="475.7" y1="301.8" x2="479.3" y2="301.8" stroke="#c8102e" stroke-width="1"/>
<line x1="475.7" y1="310.8" x2="479.3" y2="310.8" stroke="#c8102e" stroke-width="1"/>
<rect x="475.3" y="304.1" width="4.4" height="4.4" fill="#c8102e"/>
<line x1="483.5" y1="288.2" x2="483.5" y2="292.2" stroke="#c8102e" stroke-width="1"/>
<line x1="481.7" y1="288.2" x2="485.3" y2="288.2" stroke="#c8102e" stroke-width="1"/>
<line x1="481.7" y1="292.2" x2="485.3" y2="292.2" stroke="#c8102e" stroke-width="1"/>
<rect x="481.3" y="288.0" width="4.4" height="4.4" fill="#c8102e"/>
<line x1="489.3" y1="274.6" x2="489.3" y2="278.6" stroke="#c8102e" stroke-width="1"/>
<line x1="487.5" y1="274.6" x2="491.1" y2="274.6" stroke="#c8102e" stroke-width="1"/>
<line x1="487.5" y1="278.6" x2="491.1" y2="278.6" stroke="#c8102e" stroke-width="1"/>
<rect x="487.1" y="274.40000000000003" width="4.4" height="4.4" fill="#c8102e"/>
<line x1="495.5" y1="267.9" x2="495.5" y2="271.9" stroke="#c8102e" stroke-width="1"/>
<line x1="493.7" y1="267.9" x2="497.3" y2="267.9" stroke="#c8102e" stroke-width="1"/>
<line x1="493.7" y1="271.9" x2="497.3" y2="271.9" stroke="#c8102e" stroke-width="1"/>
<rect x="493.3" y="267.7" width="4.4" height="4.4" fill="#c8102e"/>
<line x1="502.5" y1="256.9" x2="502.5" y2="264.9" stroke="#c8102e" stroke-width="1"/>
<line x1="500.7" y1="256.9" x2="504.3" y2="256.9" stroke="#c8102e" stroke-width="1"/>
<line x1="500.7" y1="264.9" x2="504.3" y2="264.9" stroke="#c8102e" stroke-width="1"/>
<rect x="500.3" y="258.7" width="4.4" height="4.4" fill="#c8102e"/>
<line x1="432.5" y1="332.8" x2="432.5" y2="341.8" stroke="#546d96" stroke-width="1"/>
<line x1="430.7" y1="332.8" x2="434.3" y2="332.8" stroke="#546d96" stroke-width="1"/>
<line x1="430.7" y1="341.8" x2="434.3" y2="341.8" stroke="#546d96" stroke-width="1"/>
<circle cx="432.5" cy="337.3" r="2.3" fill="#1c3e74"/>
<line x1="439" y1="333.0" x2="439" y2="337.0" stroke="#546d96" stroke-width="1"/>
<line x1="437.2" y1="333.0" x2="440.8" y2="333.0" stroke="#546d96" stroke-width="1"/>
<line x1="437.2" y1="337.0" x2="440.8" y2="337.0" stroke="#546d96" stroke-width="1"/>
<circle cx="439" cy="335.0" r="2.3" fill="#1c3e74"/>
<line x1="445.2" y1="323.5" x2="445.2" y2="330.5" stroke="#546d96" stroke-width="1"/>
<line x1="443.4" y1="323.5" x2="447.0" y2="323.5" stroke="#546d96" stroke-width="1"/>
<line x1="443.4" y1="330.5" x2="447.0" y2="330.5" stroke="#546d96" stroke-width="1"/>
<circle cx="445.2" cy="327.0" r="2.3" fill="#1c3e74"/>
<line x1="451.6" y1="315.2" x2="451.6" y2="323.8" stroke="#546d96" stroke-width="1"/>
<line x1="449.8" y1="315.2" x2="453.40000000000003" y2="315.2" stroke="#546d96" stroke-width="1"/>
<line x1="449.8" y1="323.8" x2="453.40000000000003" y2="323.8" stroke="#546d96" stroke-width="1"/>
<circle cx="451.6" cy="319.5" r="2.3" fill="#1c3e74"/>
<line x1="458.1" y1="285.29999999999995" x2="458.1" y2="318.5" stroke="#546d96" stroke-width="1"/>
<line x1="456.3" y1="285.29999999999995" x2="459.90000000000003" y2="285.29999999999995" stroke="#546d96" stroke-width="1"/>
<line x1="456.3" y1="318.5" x2="459.90000000000003" y2="318.5" stroke="#546d96" stroke-width="1"/>
<circle cx="458.1" cy="301.9" r="2.3" fill="#1c3e74"/>
<line x1="464.5" y1="284.3" x2="464.5" y2="311.7" stroke="#546d96" stroke-width="1"/>
<line x1="462.7" y1="284.3" x2="466.3" y2="284.3" stroke="#546d96" stroke-width="1"/>
<line x1="462.7" y1="311.7" x2="466.3" y2="311.7" stroke="#546d96" stroke-width="1"/>
<circle cx="464.5" cy="298.0" r="2.3" fill="#1c3e74"/>
<line x1="470.8" y1="275.4" x2="470.8" y2="295.4" stroke="#546d96" stroke-width="1"/>
<line x1="469.0" y1="275.4" x2="472.6" y2="275.4" stroke="#546d96" stroke-width="1"/>
<line x1="469.0" y1="295.4" x2="472.6" y2="295.4" stroke="#546d96" stroke-width="1"/>
<circle cx="470.8" cy="285.4" r="2.3" fill="#1c3e74"/>
<circle cx="477.2" cy="283.6" r="2.3" fill="#1c3e74"/>
<line x1="483.5" y1="266.1" x2="483.5" y2="270.1" stroke="#546d96" stroke-width="1"/>
<line x1="481.7" y1="266.1" x2="485.3" y2="266.1" stroke="#546d96" stroke-width="1"/>
<line x1="481.7" y1="270.1" x2="485.3" y2="270.1" stroke="#546d96" stroke-width="1"/>
<circle cx="483.5" cy="268.1" r="2.3" fill="#1c3e74"/>
<line x1="489.9" y1="254.3" x2="489.9" y2="263.90000000000003" stroke="#546d96" stroke-width="1"/>
<line x1="488.09999999999997" y1="254.3" x2="491.7" y2="254.3" stroke="#546d96" stroke-width="1"/>
<line x1="488.09999999999997" y1="263.90000000000003" x2="491.7" y2="263.90000000000003" stroke="#546d96" stroke-width="1"/>
<circle cx="489.9" cy="259.1" r="2.3" fill="#1c3e74"/>
<line x1="495.9" y1="246.8" x2="495.9" y2="255.8" stroke="#546d96" stroke-width="1"/>
<line x1="494.09999999999997" y1="246.8" x2="497.7" y2="246.8" stroke="#546d96" stroke-width="1"/>
<line x1="494.09999999999997" y1="255.8" x2="497.7" y2="255.8" stroke="#546d96" stroke-width="1"/>
<circle cx="495.9" cy="251.3" r="2.3" fill="#1c3e74"/>
<line x1="502.8" y1="242.3" x2="502.8" y2="251.7" stroke="#546d96" stroke-width="1"/>
<line x1="501.0" y1="242.3" x2="504.6" y2="242.3" stroke="#546d96" stroke-width="1"/>
<line x1="501.0" y1="251.7" x2="504.6" y2="251.7" stroke="#546d96" stroke-width="1"/>
<circle cx="502.8" cy="247.0" r="2.3" fill="#1c3e74"/>
<text x="371.3" y="289.2" font-size="8.6" text-anchor="middle" fill="#3a3a3a" font-weight="normal" textLength="91" lengthAdjust="spacingAndGlyphs" transform="rotate(-90 371.3 289.2)" stroke="#3a3a3a" stroke-width="0.18">Fraction bound · ΔF norm</text>
<text x="450.6" y="372.8" font-size="8.8" text-anchor="middle" fill="#3a3a3a" font-weight="normal" textLength="38.5" lengthAdjust="spacingAndGlyphs" stroke="#3a3a3a" stroke-width="0.18">[uPAR] (M)</text>
<circle cx="395.4" cy="387.2" r="2.2" fill="#1c3e74"/>
<text x="400.6" y="389.6" font-size="8.6" text-anchor="start" fill="#3a3a3a" font-weight="normal" textLength="29.2" lengthAdjust="spacingAndGlyphs" stroke="#3a3a3a" stroke-width="0.18">(FXII/Zn</text>
<text x="430.6" y="385.9" font-size="5.8" text-anchor="start" fill="#3a3a3a" font-weight="normal" textLength="8.4" lengthAdjust="spacingAndGlyphs" stroke="#3a3a3a" stroke-width="0.18">2+</text>
<text x="439.5" y="389.6" font-size="8.6" text-anchor="start" fill="#3a3a3a" font-weight="normal" textLength="31.9" lengthAdjust="spacingAndGlyphs" stroke="#3a3a3a" stroke-width="0.18">) + uPAR</text>
<rect x="393.1" y="400.7" width="4.6" height="4.6" fill="#c8102e"/>
<text x="400.6" y="405.5" font-size="8.6" text-anchor="start" fill="#3a3a3a" font-weight="normal" textLength="29.2" lengthAdjust="spacingAndGlyphs" stroke="#3a3a3a" stroke-width="0.18">(FXII/Zn</text>
<text x="430.6" y="401.8" font-size="5.8" text-anchor="start" fill="#3a3a3a" font-weight="normal" textLength="8.4" lengthAdjust="spacingAndGlyphs" stroke="#3a3a3a" stroke-width="0.18">2+</text>
<text x="442.0" y="405.5" font-size="8.6" text-anchor="start" fill="#3a3a3a" font-weight="normal" textLength="65.5" lengthAdjust="spacingAndGlyphs" stroke="#3a3a3a" stroke-width="0.18">+ 15D10) + uPAR</text>
</svg>
</body></html>
